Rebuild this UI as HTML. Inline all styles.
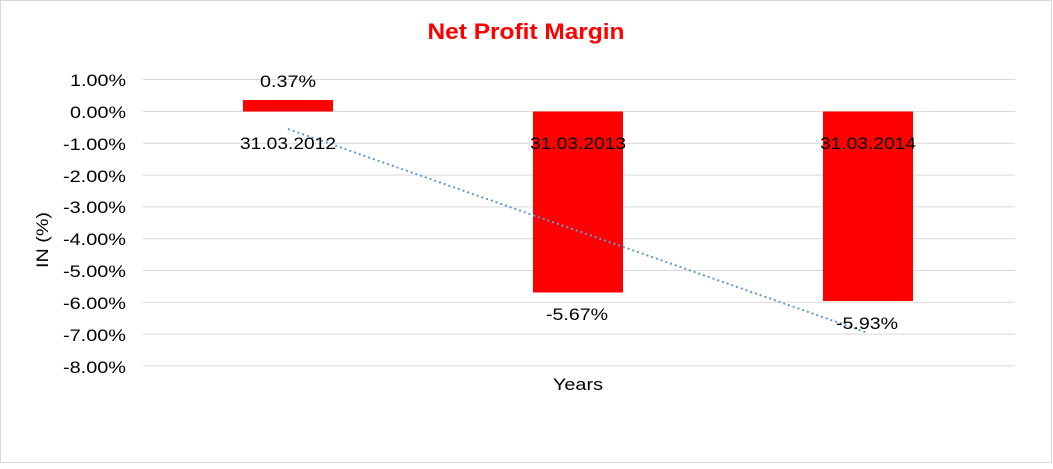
<!DOCTYPE html>
<html><head><style>
html,body{margin:0;padding:0;background:#fff;}
svg text{font-family:"Liberation Sans",Arial,sans-serif;}
</style></head><body>
<svg width="1053" height="464" xmlns="http://www.w3.org/2000/svg">
<rect x="0.5" y="0.5" width="1051" height="462" fill="#fff" stroke="#d9d9d9"/>
<text x="526" y="39" text-anchor="middle" font-size="22" font-weight="bold" fill="#ff0000" textLength="197" lengthAdjust="spacingAndGlyphs">Net Profit Margin</text>
<g stroke="#d9d9d9" stroke-width="1">
<line x1="143" x2="1015" y1="79.5" y2="79.5"/>
<line x1="143" x2="1015" y1="111.5" y2="111.5"/>
<line x1="143" x2="1015" y1="143.3" y2="143.3"/>
<line x1="143" x2="1015" y1="175.1" y2="175.1"/>
<line x1="143" x2="1015" y1="206.9" y2="206.9"/>
<line x1="143" x2="1015" y1="238.7" y2="238.7"/>
<line x1="143" x2="1015" y1="270.5" y2="270.5"/>
<line x1="143" x2="1015" y1="302.3" y2="302.3"/>
<line x1="143" x2="1015" y1="334.1" y2="334.1"/>
<line x1="143" x2="1015" y1="365.9" y2="365.9"/>
</g>
<g font-size="17" fill="#000" text-anchor="end" lengthAdjust="spacingAndGlyphs">
<text x="126" y="86" textLength="56" lengthAdjust="spacingAndGlyphs">1.00%</text>
<text x="126" y="118" textLength="56" lengthAdjust="spacingAndGlyphs">0.00%</text>
<text x="126" y="150" textLength="63" lengthAdjust="spacingAndGlyphs">-1.00%</text>
<text x="126" y="182" textLength="63" lengthAdjust="spacingAndGlyphs">-2.00%</text>
<text x="126" y="213" textLength="63" lengthAdjust="spacingAndGlyphs">-3.00%</text>
<text x="126" y="245" textLength="63" lengthAdjust="spacingAndGlyphs">-4.00%</text>
<text x="126" y="277" textLength="63" lengthAdjust="spacingAndGlyphs">-5.00%</text>
<text x="126" y="309" textLength="63" lengthAdjust="spacingAndGlyphs">-6.00%</text>
<text x="126" y="341" textLength="63" lengthAdjust="spacingAndGlyphs">-7.00%</text>
<text x="126" y="373" textLength="63" lengthAdjust="spacingAndGlyphs">-8.00%</text>
</g>
<text transform="translate(48,240) rotate(-90)" text-anchor="middle" font-size="17" textLength="56" lengthAdjust="spacingAndGlyphs">IN (%)</text>
<rect x="243" y="100" width="90" height="11.5" fill="#ff0000"/>
<rect x="533" y="111.5" width="90" height="181" fill="#ff0000"/>
<rect x="823" y="111.5" width="90" height="189.5" fill="#ff0000"/>
<line x1="288" y1="129" x2="868" y2="333" stroke="#5b9bd5" stroke-width="2" stroke-dasharray="2,3"/>
<g font-size="17" text-anchor="middle" fill="#000">
<text x="288" y="87" textLength="56" lengthAdjust="spacingAndGlyphs">0.37%</text>
<text x="288" y="149" textLength="96" lengthAdjust="spacingAndGlyphs">31.03.2012</text>
<text x="578" y="149" textLength="96" lengthAdjust="spacingAndGlyphs">31.03.2013</text>
<text x="868" y="149" textLength="96" lengthAdjust="spacingAndGlyphs">31.03.2014</text>
<text x="577" y="320" textLength="62" lengthAdjust="spacingAndGlyphs">-5.67%</text>
<text x="867" y="329" textLength="62" lengthAdjust="spacingAndGlyphs">-5.93%</text>
<text x="578" y="390" textLength="50" lengthAdjust="spacingAndGlyphs">Years</text>
</g>
</svg>
</body></html>
